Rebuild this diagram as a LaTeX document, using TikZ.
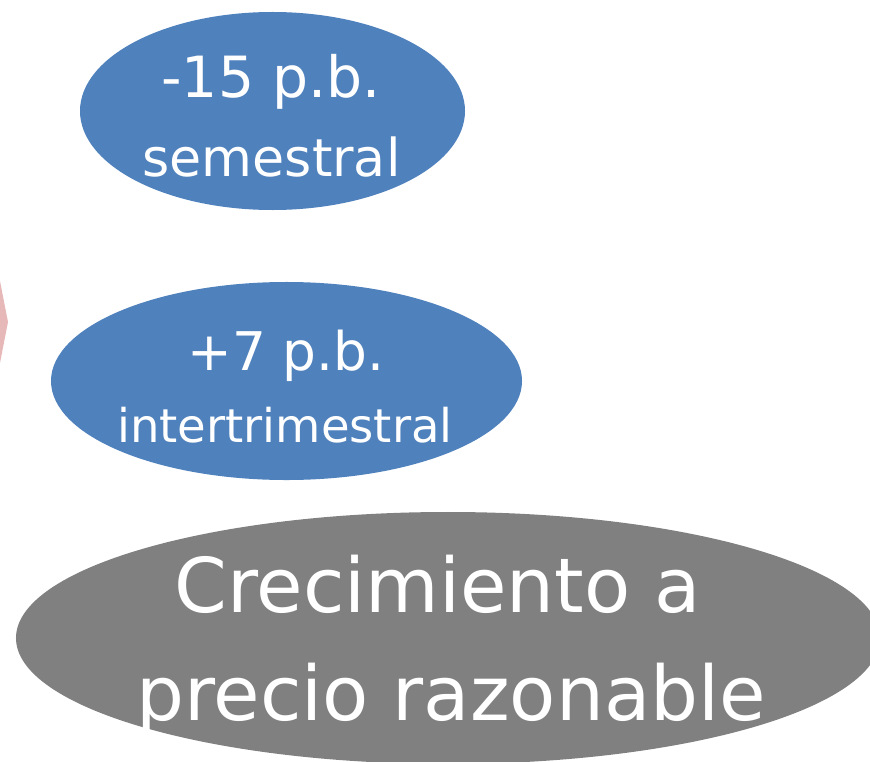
\documentclass[tikz,border=0pt]{standalone}
\usepackage{fontspec}
\setmainfont{DejaVu Sans}
\usetikzlibrary{shapes.geometric}

\definecolor{blueoval}{HTML}{4F81BD}
\definecolor{greyoval}{HTML}{808080}
\definecolor{pinkarrow}{HTML}{E6B9B8}

\tikzstyle{oval} = [ellipse, inner sep = 0pt, fill = blueoval, draw = none]
\tikzstyle{bigoval} = [ellipse, inner sep = 0pt, fill = greyoval, draw = none]
\tikzstyle{txt} = [anchor = base, inner sep = 0pt, text = white]

\begin{document}
\begin{tikzpicture}[x = 0.03cm, y = -0.03cm]

    \useasboundingbox (0,0) rectangle (870,762);

    \fill[pinkarrow] (-20,281) -- (0,281) -- (8,322) -- (0,363) -- (-20,363) -- cycle;

    \node(semi)[oval, minimum width = 11.55cm, minimum height = 5.94cm] at (272.5,111) {};
    \node(inter)[oval, minimum width = 14.13cm, minimum height = 5.94cm] at (286.5,381) {};
    \node(growth)[bigoval, minimum width = 25.92cm, minimum height = 7.56cm] at (448,638) {};

    \node(semival)[txt, font = \fontsize{48.5}{50}\selectfont] at (271,98) {-15 p.b.};
    \node(seminame)[txt, font = \fontsize{44.6}{46}\selectfont] at (271.5,176) {semestral};
    \node(interval)[txt, font = \fontsize{45.5}{47}\selectfont] at (286,370) {+7 p.b.};
    \node(intername)[txt, font = \fontsize{39.7}{41}\selectfont] at (285,442) {intertrimestral};
    \node(growtha)[txt, font = \fontsize{64.5}{66}\selectfont] at (437.5,612) {Crecimiento a};
    \node(growthb)[txt, font = \fontsize{64.5}{66}\selectfont] at (451,720) {precio razonable};

\end{tikzpicture}
\end{document}
